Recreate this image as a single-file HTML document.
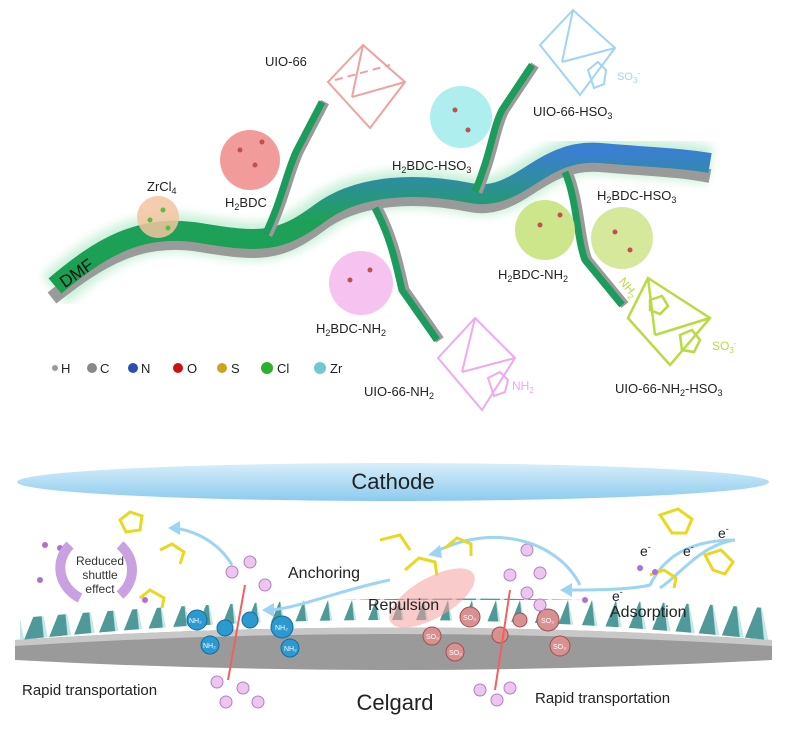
<!DOCTYPE html>
<html><head><meta charset="utf-8"><style>
body{margin:0;background:#fff;}
svg{display:block;font-family:"Liberation Sans",sans-serif;}
</style></head><body>
<svg width="787" height="730" viewBox="0 0 787 730" xmlns="http://www.w3.org/2000/svg">
<defs>
<linearGradient id="rib" x1="0" y1="0" x2="0" y2="1"><stop offset="0" stop-color="#3a7fd0"/><stop offset="0.5" stop-color="#1fa05a"/><stop offset="1" stop-color="#18a050"/></linearGradient>
<linearGradient id="cat" x1="0" y1="0" x2="0" y2="1"><stop offset="0" stop-color="#d8eefa"/><stop offset="1" stop-color="#8ccbee"/></linearGradient>
<filter id="gl"><feGaussianBlur stdDeviation="5"/></filter>
<pattern id="saw" width="24" height="40" patternUnits="userSpaceOnUse"><polygon points="0,40 16,0 24,40" fill="#4f9a98"/><polygon points="16,0 24,40 20,40" fill="#bfe8ea"/></pattern>
</defs>
<path d="M55,290 C100,250 140,225 200,235 S280,245 320,215 S420,185 470,195 S540,150 600,155 S680,160 710,165" fill="none" stroke="#8fe0b0" stroke-width="38" opacity="0.5" filter="url(#gl)"/>
<path d="M52,298 C100,260 140,235 200,245 S280,255 320,225 S420,195 470,205 S540,160 600,165 S680,170 710,176" fill="none" stroke="#9a9a9a" stroke-width="14"/>
<path d="M55,286 C100,248 140,223 200,233 S280,243 320,213 S420,183 470,193 S540,148 600,153 S680,158 710,163" fill="none" stroke="url(#rib)" stroke-width="20"/>
<text x="58" y="283" font-size="17" fill="#111" transform="rotate(-35 70 275)">DMF</text>
<path d="M268,235 C285,200 290,170 300,150 L325,102" fill="none" stroke="#9a9a9a" stroke-width="9"/>
<path d="M265,235 C282,200 287,170 297,150 L322,102" fill="none" stroke="#1c9c5c" stroke-width="7"/>
<path d="M478,192 C495,150 495,130 505,110 L535,65" fill="none" stroke="#9a9a9a" stroke-width="9"/>
<path d="M475,192 C492,150 492,130 502,110 L532,65" fill="none" stroke="#1c9c5c" stroke-width="7"/>
<path d="M378,208 C395,240 400,270 405,290 L440,340" fill="none" stroke="#9a9a9a" stroke-width="9"/>
<path d="M375,208 C392,240 397,270 402,290 L437,340" fill="none" stroke="#1c9c5c" stroke-width="7"/>
<path d="M568,172 C580,200 580,240 588,260 L625,305" fill="none" stroke="#9a9a9a" stroke-width="9"/>
<path d="M565,172 C577,200 577,240 585,260 L622,305" fill="none" stroke="#1c9c5c" stroke-width="7"/>
<circle cx="158" cy="217" r="21" fill="#f3c4a0" opacity="0.85"/>
<circle cx="250" cy="160" r="30" fill="#f08a8a" opacity="0.85"/>
<circle cx="461" cy="117" r="31" fill="#a6ecec" opacity="0.9"/>
<circle cx="361" cy="283" r="32" fill="#f5bdf0" opacity="0.9"/>
<circle cx="545" cy="230" r="30" fill="#c8e37e" opacity="0.9"/>
<circle cx="622" cy="238" r="31" fill="#d2e690" opacity="0.9"/>
<g fill="#c05050"><circle cx="240" cy="150" r="2.5"/><circle cx="255" cy="165" r="2.5"/><circle cx="262" cy="142" r="2.5"/><circle cx="350" cy="280" r="2.5"/><circle cx="370" cy="270" r="2.5"/><circle cx="455" cy="110" r="2.5"/><circle cx="468" cy="130" r="2.5"/><circle cx="540" cy="225" r="2.5"/><circle cx="560" cy="215" r="2.5"/><circle cx="615" cy="232" r="2.5"/><circle cx="630" cy="250" r="2.5"/></g>
<g fill="#55c040"><circle cx="150" cy="220" r="2.5"/><circle cx="163" cy="210" r="2.5"/><circle cx="168" cy="228" r="2.5"/></g>
<g fill="none" stroke="#f2a0a0" stroke-width="2"><polygon points="363,45 328,82 370,128 405,82"/><line x1="363" y1="45" x2="352" y2="97"/><line x1="352" y1="97" x2="405" y2="82"/><line x1="335" y1="80" x2="390" y2="65" stroke-dasharray="8,5"/></g>
<g fill="none" stroke="#9fd4f6" stroke-width="2"><polygon points="573,10 540,45 580,95 615,48"/><line x1="573" y1="10" x2="562" y2="62"/><line x1="562" y1="62" x2="615" y2="48"/><path d="M588,70 L598,62 L606,70 L604,84 L594,88 Z"/></g>
<text x="617" y="80" font-size="11" fill="#9fd4f6">SO<tspan font-size="8" dy="3">3</tspan><tspan font-size="8" dy="-7">-</tspan></text>
<g fill="none" stroke="#f0a8f0" stroke-width="2"><polygon points="475,318 438,358 482,410 515,358"/><line x1="475" y1="318" x2="462" y2="372"/><line x1="462" y1="372" x2="515" y2="358"/><path d="M488,378 L500,372 L508,380 L505,392 L494,396 Z"/></g>
<text x="512" y="390" font-size="12" fill="#f0a8f0">NH<tspan font-size="8" dy="3">2</tspan></text>
<g fill="none" stroke="#b6dc40" stroke-width="2.5"><polygon points="648,278 628,318 670,365 710,318"/><line x1="648" y1="278" x2="655" y2="335"/><line x1="655" y1="335" x2="710" y2="318"/><path d="M650,300 L662,296 L668,306 L660,314 L650,310 Z"/><path d="M680,335 L692,330 L700,340 L694,352 L682,350 Z"/></g>
<text x="712" y="350" font-size="12" fill="#b6dc40">SO<tspan font-size="8" dy="3">3</tspan><tspan font-size="8" dy="-7">-</tspan></text>
<text x="618" y="288" font-size="12" fill="#b6dc40" transform="rotate(50 625 285)">NH<tspan font-size="8" dy="3">2</tspan></text>
<g font-size="13" fill="#222">
<text x="265" y="66">UIO-66</text>
<text x="533" y="116">UIO-66-HSO<tspan font-size="9" dy="3">3</tspan></text>
<text x="225" y="207">H<tspan font-size="9" dy="3">2</tspan><tspan dy="-3">BDC</tspan></text>
<text x="147" y="191">ZrCl<tspan font-size="9" dy="3">4</tspan></text>
<text x="392" y="170">H<tspan font-size="9" dy="3">2</tspan><tspan dy="-3">BDC-HSO</tspan><tspan font-size="9" dy="3">3</tspan></text>
<text x="597" y="200">H<tspan font-size="9" dy="3">2</tspan><tspan dy="-3">BDC-HSO</tspan><tspan font-size="9" dy="3">3</tspan></text>
<text x="498" y="279">H<tspan font-size="9" dy="3">2</tspan><tspan dy="-3">BDC-NH</tspan><tspan font-size="9" dy="3">2</tspan></text>
<text x="316" y="333">H<tspan font-size="9" dy="3">2</tspan><tspan dy="-3">BDC-NH</tspan><tspan font-size="9" dy="3">2</tspan></text>
<text x="364" y="396">UIO-66-NH<tspan font-size="9" dy="3">2</tspan></text>
<text x="615" y="393">UIO-66-NH<tspan font-size="9" dy="3">2</tspan><tspan dy="-3">-HSO</tspan><tspan font-size="9" dy="3">3</tspan></text>
</g>
<g font-size="13" fill="#222">
<circle cx="55" cy="368" r="3" fill="#999"/><text x="61" y="373">H</text>
<circle cx="92" cy="368" r="5" fill="#888"/><text x="100" y="373">C</text>
<circle cx="133" cy="368" r="5" fill="#2a4fb0"/><text x="141" y="373">N</text>
<circle cx="178" cy="368" r="5" fill="#d01010"/><text x="187" y="373">O</text>
<circle cx="222" cy="368" r="5" fill="#d0a020"/><text x="231" y="373">S</text>
<circle cx="267" cy="368" r="6" fill="#2cb030"/><text x="277" y="373">Cl</text>
<circle cx="320" cy="368" r="6" fill="#70c8d0"/><text x="330" y="373">Zr</text>
</g>
<ellipse cx="393" cy="482" rx="376" ry="19" fill="url(#cat)"/>
<text x="393" y="489" font-size="22" text-anchor="middle" fill="#222">Cathode</text>
<path d="M15,640 Q393,615 772,640 L772,660 Q393,680 15,660 Z" fill="#9a9a9a"/>
<path d="M15,640 Q393,615 772,640 L772,646 Q393,622 15,646 Z" fill="#c8c8c8"/>
<path d="M20,640 Q393,600 768,640 L768,608 Q393,585 20,618 Z" fill="url(#saw)"/>
<g fill="#2a9ad0" stroke="#1a6a9a"><circle cx="197" cy="620" r="10"/><circle cx="210" cy="645" r="9"/><circle cx="225" cy="628" r="8"/><circle cx="250" cy="620" r="8"/><circle cx="282" cy="627" r="11"/><circle cx="290" cy="648" r="9"/></g>
<g fill="#d89090" stroke="#a05050"><circle cx="470" cy="617" r="10"/><circle cx="432" cy="636" r="9"/><circle cx="455" cy="652" r="9"/><circle cx="500" cy="635" r="8"/><circle cx="520" cy="620" r="7"/><circle cx="548" cy="620" r="11"/><circle cx="560" cy="646" r="10"/></g>
<g font-size="7" fill="#fff"><text x="189" y="623">NH₂</text><text x="275" y="630">NH₂</text><text x="203" y="648">NH₂</text><text x="284" y="651">NH₂</text><text x="463" y="620">SO₃</text><text x="426" y="639">SO₃</text><text x="449" y="655">SO₃</text><text x="541" y="623">SO₃</text><text x="553" y="649">SO₃</text></g>
<g fill="#ecc6ef" stroke="#b080c0"><circle cx="232" cy="572" r="6"/><circle cx="250" cy="562" r="6"/><circle cx="265" cy="585" r="6"/><circle cx="217" cy="682" r="6"/><circle cx="243" cy="688" r="6"/><circle cx="258" cy="702" r="6"/><circle cx="226" cy="702" r="6"/><circle cx="527" cy="550" r="6"/><circle cx="540" cy="573" r="6"/><circle cx="510" cy="575" r="6"/><circle cx="527" cy="593" r="6"/><circle cx="540" cy="605" r="6"/><circle cx="480" cy="690" r="6"/><circle cx="497" cy="700" r="6"/><circle cx="510" cy="688" r="6"/></g>
<line x1="228" y1="680" x2="245" y2="585" stroke="#f06060" stroke-width="2"/>
<line x1="510" y1="590" x2="495" y2="690" stroke="#f06060" stroke-width="2"/>
<ellipse cx="432" cy="598" rx="48" ry="20" fill="#f6a0a0" opacity="0.55" transform="rotate(-30 432 598)"/>
<g fill="none" stroke="#9cd4f4" stroke-width="3"><path d="M232,565 C220,545 200,532 175,528"/><path d="M390,580 C340,590 300,608 270,610"/><path d="M580,585 C560,545 500,520 435,552"/><path d="M735,540 C680,540 660,565 650,585 C630,590 590,590 570,590"/><path d="M735,540 C700,545 680,575 660,588"/></g>
<g fill="#9cd4f4"><polygon points="168,528 180,521 180,535"/><polygon points="262,610 274,603 274,617"/><polygon points="428,555 440,545 442,558"/><polygon points="560,590 572,583 572,597"/></g>
<g fill="none" stroke="#e8d820" stroke-width="3"><path d="M120,520 l10,-8 l12,4 l-2,14 l-14,2 z"/><path d="M160,550 l12,-6 l12,8 l-4,12"/><path d="M140,598 l10,-8 l14,8 l-2,10"/><path d="M380,540 l20,-5 l10,15"/><path d="M405,570 l14,-12 l16,4 l2,14"/><path d="M445,548 l12,-10 l14,6 l0,12"/><path d="M660,515 l18,-6 l14,10 l-6,14 l-14,0 z"/><path d="M705,555 l16,-5 l12,12 l-8,12 l-12,-4 z"/><path d="M650,575 l14,-5 l12,8 l-2,10"/></g>
<g fill="#b070d0"><circle cx="45" cy="545" r="3"/><circle cx="60" cy="548" r="3"/><circle cx="40" cy="580" r="3"/><circle cx="640" cy="568" r="3"/><circle cx="655" cy="572" r="3"/><circle cx="585" cy="600" r="3"/><circle cx="145" cy="600" r="3"/></g>
<path d="M70,545 A40,35 0 0 0 80,598" fill="none" stroke="#c9a0e0" stroke-width="10"/>
<path d="M120,545 A40,35 0 0 1 120,595" fill="none" stroke="#c9a0e0" stroke-width="10"/>
<g font-size="12" fill="#333" text-anchor="middle"><text x="100" y="565">Reduced</text><text x="100" y="579">shuttle</text><text x="100" y="593">effect</text></g>
<g fill="#222">
<text x="288" y="578" font-size="16">Anchoring</text>
<text x="368" y="610" font-size="16">Repulsion</text>
<text x="610" y="617" font-size="16">Adsorption</text>
<text x="22" y="695" font-size="15">Rapid transportation</text>
<text x="535" y="703" font-size="15">Rapid transportation</text>
<text x="395" y="710" font-size="22" text-anchor="middle">Celgard</text>
<text x="718" y="538" font-size="14">e<tspan font-size="9" dy="-6">-</tspan></text>
<text x="640" y="556" font-size="14">e<tspan font-size="9" dy="-6">-</tspan></text>
<text x="683" y="556" font-size="14">e<tspan font-size="9" dy="-6">-</tspan></text>
<text x="612" y="601" font-size="14">e<tspan font-size="9" dy="-6">-</tspan></text>
</g>
</svg>
</body></html>
